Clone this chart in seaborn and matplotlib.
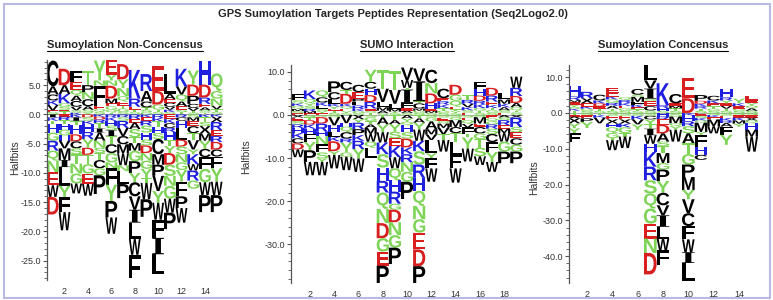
import pandas as pd
import seaborn as sns
import matplotlib.pyplot as plt
from matplotlib.textpath import TextPath
from matplotlib.font_manager import FontProperties
from matplotlib.patches import PathPatch, Rectangle
from matplotlib.lines import Line2D
from matplotlib.transforms import Affine2D
from matplotlib.ticker import AutoMinorLocator, FormatStrFormatter, MultipleLocator

sns.set_theme(style="ticks")
plt.rcParams['font.family'] = ['Liberation Sans', 'DejaVu Sans']

# stacks per position, letter + height in halfbits
# up: bottom -> top, down: top -> bottom
noncons_up = [
    "S.4 E.3 V.9 K.8 C1.0 A1.4 C4.4",
    "T.5 E.3 S.5 G.6 K1.6 A1.5 D2.8",
    "K.3 S.4 V.6 C1.0 A.9 Q1.0 E1.3 F1.9",
    "Y.3 S.5 A.6 C1.2 N1.2 P1.2 T2.4",
    "S.4 Q.5 E.6 F3.4 N.9 Y3.4",
    "T.3 Q.5 G.6 E.5 M.8 D2.2 N.9 Y1.0 E2.5",
    "S.4 G.6 T.5 E.7 Q.9 N1.4 Y1.5 D2.6",
    "S.4 T.4 E.5 R1.4 K4.9",
    "G.4 S.4 T.4 C1.0 A1.8 R2.9",
    "S.4 T.4 G.9 D2.3 E4.2",
    "S.4 K.4 V.5 C.7 E.6 A.9 L3.4",
    "T.4 S.4 E.6 A.8 Q1.2 V1.4 K3.0",
    "S.3 T.3 V.5 C.7 P1.4 D1.9 Y2.4",
    "T.3 S.4 A.5 E.6 R1.1 D2.2 H4.0",
    "S.4 T.5 V.6 N1.2 G1.3 Q3.0",
]
noncons_down = [
    "I.5 K.6 T.6 H1.4 G1.4 R1.7 Q1.7 N2.0 E2.2 W2.0 D3.0",
    "E.4 R.6 T.6 H1.0 G1.0 H.9 V1.3 M2.0 I1.2 L3.2 Y2.0 F2.5 W3.1",
    "K.5 I.6 T.7 H1.6 D1.2 C1.2 S1.0 T1.6 N1.7 G1.7 W1.7",
    "D.5 S.6 K.6 H1.3 R1.2 Y1.5 D1.2 T1.6 G1.6 E1.8 W2.0",
    "K.4 D.5 R.6 T.9 I.7 A1.4 N1.2 S.9 T1.2 C1.4 G1.2 P3.2",
    "R.5 K.6 H.8 S.8 I1.0 T1.4 C1.5 G1.6 N1.0 F2.8 Y2.8 P2.8 W2.8",
    "R.5 S.6 R1.2 V1.4 C1.4 M1.6 W2.0 N1.0 L2.2 P2.4",
    "R.8 E.6 A1.1 S1.4 T1.0 M1.3 G1.8 P2.0 Y1.6 C2.4 V2.3 I2.2 L2.8 W2.7 F4.0",
    "K.5 E.6 R.8 S1.2 H1.2 S1.0 D1.3 N1.3 G1.4 Y1.6 T.8 W2.8 P3.0",
    "R.6 K.6 T1.0 H1.0 S1.0 C2.6 M1.8 P1.9 V2.6 Y2.0 W2.9 F3.1 I2.8 L3.4",
    "E.8 K.7 C.8 R.7 H1.4 T1.0 Y1.2 D2.0 S1.9 N1.7 G2.2 W2.4 P2.8",
    "R.5 C.6 H1.2 L2.0 D1.2 S1.3 N1.4 G1.3 Y2.0 F2.5 P2.0 W2.5",
    "S.5 M.6 E.9 C1.2 T1.2 V1.6 Y.8 K1.7 W1.1 R1.7 G1.4",
    "K.5 T.8 S.7 X1.3 M1.2 Y1.4 C1.4 F2.0 G2.3 W2.2 P2.9",
    "K.4 X.9 R1.4 E1.0 R1.0 D1.3 C1.2 F2.0 Y2.3 W2.3 P2.9",
]

sumo_up = [
    "E.4 S.5 M.5 Q.7 K.6 S.7 F1.5",
    "E.4 M.5 R.5 S.7 Y.6 Q1.0 K2.0",
    "E.4 Y.5 S.6 L.6 K.8 C1.2 Q1.6",
    "S.5 T.5 E.4 Y.6 K.6 L1.0 C1.7 P2.5",
    "S.4 Y.5 E.5 Q.6 K.6 D2.3 T.9 C1.9",
    "S.4 G.5 K.5 R.8 L.9 P.6 E1.6 C1.7",
    "T.5 S.5 E.5 R1.5 D1.6 H1.5 C1.6 Y2.8",
    "S.4 A.6 M.8 L1.2 V3.1 T4.3",
    "S.4 Y.4 M.6 L1.2 V3.2 T4.4",
    "S.5 A.5 E.6 F1.2 I3.1 T.4 W1.8 V2.9",
    "S.5 G.5 M.5 C1.2 T.5 I4.6 V3.0",
    "S.5 M.5 E.5 H1.2 D2.3 N2.4 C3.1",
    "S.5 G.5 T.6 K.8 R.8 E.7 C2.2",
    "S.4 Y.5 T.4 E.6 Q1.4 G1.4 D2.3",
    "E.5 S.6 K.7 V.8 R.9 T1.2",
    "S.5 T.5 G.6 K.9 R.8 D1.2 H1.5 F1.6",
    "S.5 G.6 T.5 K.7 E.8 R1.4 D1.8",
    "E.5 S.6 A.7 K.8 M1.0 L1.6",
    "S.6 T.4 Q.8 A1.0 D1.6 R1.9 W2.6",
]
sumo_down = [
    "X.6 E.8 S.8 R.8 H1.2 K1.2 C1.2 D1.4 W1.8",
    "S.5 T.7 D1.0 K1.0 H1.2 F1.9 Y1.9 P2.7 W3.1",
    "Q.5 D1.5 R1.9 H1.0 N1.9 F1.9 S1.4 Y.8 W3.1",
    "S.5 V1.9 H1.5 L1.2 K1.0 D2.3 Y.9 W3.1",
    "V1.9 H.8 Q1.3 C1.5 R.9 Y2.3 G1.0 W3.1",
    "X1.0 Y.8 R1.5 P1.4 K1.3 R1.9 Y2.2 W3.1",
    "S.6 G.8 T.8 A.8 M1.4 W1.8 Q1.4 L2.4",
    "T.6 A1.6 Y1.8 W2.4 K2.7 S3.1 H3.1 R2.7 Q3.8 N3.3 D3.5 G3.1 E3.3 P4.0",
    "T1.2 A.9 Y1.8 S1.5 E1.8 K2.6 W2.6 Q2.8 H2.6 R2.8 G1.4 D2.9 N3.0 G2.9 P3.8",
    "A.8 Y.8 Q.8 H1.6 S1.5 D2.0 K1.6 R1.9 N2.2 G2.3 P4.0",
    "T.8 A1.0 Y1.6 W2.6 K2.4 S3.1 R3.1 H3.0 Q3.5 N3.1 G3.1 E3.9 D3.9 P3.9",
    "S.6 G.9 A1.8 M1.2 V1.3 L3.1 Y1.2 F2.3 W3.1",
    "S.6 E.8 Q.6 M1.0 V1.5 T1.3 W2.7",
    "S.6 Q.6 M1.6 C1.4 T2.0 L3.0 F3.2 W3.3",
    "S.6 E.6 Q.9 V.8 F1.5 T.8 Y2.6 W3.0",
    "S.5 M1.5 E.8 C1.5 G1.3 T2.0 S2.0 W2.0",
    "E.8 Q.7 G.7 R1.0 S1.2 C1.9 F2.3 Y2.3 W2.3",
    "A.6 S.6 R1.2 E.8 M1.0 W2.0 G2.3 P2.7",
    "X.6 R2.2 S1.2 E1.4 C1.5 G1.6 P2.7",
]

cons_up = [
    "T.6 K.6 S.5 Y.6 E.7 M.6 R1.0 H2.8",
    "S.6 G.6 K.6 E.9 X1.4 R1.8",
    "S.6 T.6 E.7 D.8 K.8 C1.6",
    "S.6 T.6 A.8 R.8 G1.0 K.8 E.9 E1.4",
    "S.6 G.7 E.7 K.8 R.8 Q.8",
    "S.5 T.5 E.6 K.7 F.8 M1.4 S.6 C1.6",
    "S.7 C1.2 E1.5 S.6 I2.8 V2.3 L4.2",
    "S.6 H.8 R.8 K6.1",
    "S.6 T.7 M.7 E.7 C2.6",
    "D4.1 E5.6",
    "S.6 T.6 R.7 K.7 D.8 P1.6",
    "S.6 G.6 T.7 E.8 K.8 C1.3",
    "S.6 T.6 V.8 E.7 Y.8 R.9 H2.3",
    "S.6 G.6 E.7 K.8 Y1.3",
    "S.6 A.7 Q.7 Y.8 E.8 E1.2",
]
cons_down = [
    "T.5 E.5 A.5 X1.4 Y1.4 Y1.4 F2.3",
    "S.6 E.9 P1.0 Y1.7",
    "T.6 K.7 V1.6",
    "S.8 E1.0 X1.2 H1.0 Q1.6 G1.4 T.6 W2.8",
    "S.8 E1.0 X1.2 K1.0 G1.6 T1.0 W3.2",
    "S.8 K1.0 V1.4 Y1.5",
    "S.8 C1.0 Y1.4 T1.2 I1.8 W2.4 H2.3 K4.1 R3.8 S3.7 Q4.2 G4.2 E4.2 N4.0 D6.0",
    "H1.0 R.8 E1.5 D2.4 A2.3 S1.2 T2.0 M2.8 G1.8 P3.2 Y3.3 C3.5 V2.8 I3.2 L3.3 W3.3 F4.0",
    "S1.0 M1.9 Q.8 Y1.0 W3.3",
    "K.7 H1.6 R1.4 S2.0 A2.8 T3.0 G2.9 P3.5 M3.6 Y2.6 V3.9 C3.6 F3.7 W3.6 I3.0 L5.0",
    "E.8 S.6 K.7 Q.6 M2.6 Y.8 F3.3 H2.3 C1.4",
    "S.6 K.6 E.6 M1.9 W2.0",
    "S.8 E.6 K.8 R.6 A1.0 F2.3 Y2.8",
    "S.6 E.7 K.8 M.9 Y.8",
    "S.6 E.7 X.8 Q.8 H1.8 M1.9 W4.2",
]

titles = ["Sumoylation Non-Concensus", "SUMO Interaction", "Sumoylation Concensus"]

red, blue, green = '#d81e1e', '#1f1fe0', '#7dd456'
aa_color = {}
for a in "DE":
    aa_color[a] = red
for a in "KRH":
    aa_color[a] = blue
for a in "GSTYQN":
    aa_color[a] = green

sans = FontProperties(family='Liberation Sans', weight='bold')
serif = FontProperties(family='Liberation Serif', weight='bold')


def stack_table(up, down):
    rows = []
    for i, (u, d) in enumerate(zip(up, down), start=1):
        y = 0.0
        for tok in u.split():
            h = float(tok[1:])
            rows.append((i, tok[0], y, h))
            y += h
        y = 0.0
        for tok in d.split():
            h = float(tok[1:])
            y -= h
            rows.append((i, tok[0], y, h))
    return pd.DataFrame(rows, columns=['pos', 'aa', 'bottom', 'height'])


def draw_letter(ax, aa, x, y0, h, w=1.0):
    p = TextPath((0, 0), aa, size=1, prop=serif if aa == 'I' else sans)
    e = p.get_extents()
    t = (Affine2D().translate(-e.x0, -e.y0)
         .scale(w / e.width, h / e.height)
         .translate(x - w / 2, y0))
    ax.add_patch(PathPatch(p, transform=t + ax.transData,
                           fc=aa_color.get(aa, 'black'), lw=0))


W, H = 773, 300
fig = plt.figure(figsize=(7.73, 3.0), dpi=100)

panels = [
    dict(df=stack_table(noncons_up, noncons_down), rect=(47, 60, 175.5, 220),
         xlim=(0.5, 15.5), ylim=(-28.3, 9.3), step=5, lab=(15, 158), tx=125),
    dict(df=stack_table(sumo_up, sumo_down), rect=(291, 65, 232, 218),
         xlim=(0.44, 19.55), ylim=(-39, 11.6), step=10, lab=(246, 157), tx=407),
    dict(df=stack_table(cons_up, cons_down), rect=(569, 65, 189, 218),
         xlim=(0.58, 15.5), ylim=(-47.5, 13.4), step=10, lab=(534, 178), tx=663),
]

title_texts = []
for k, pnl in enumerate(panels):
    x0, y0, w, h = pnl['rect']
    ax = fig.add_axes([x0 / W, 1 - (y0 + h) / H, w / W, h / H])
    ax.set_facecolor('white')
    ax.set_xlim(*pnl['xlim'])
    ax.set_ylim(*pnl['ylim'])
    ax.axhline(0, color='#999999', lw=0.6, zorder=0)
    for r in pnl['df'].itertuples():
        draw_letter(ax, r.aa, r.pos, r.bottom, r.height)
    sns.despine(ax=ax, bottom=True)
    ax.spines['left'].set_color('#555555')
    ax.spines['left'].set_linewidth(0.9)
    npos = pnl['df']['pos'].max()
    ax.set_xticks(range(2, npos + 1, 2))
    ax.tick_params(axis='x', length=0, pad=5, labelsize=6.5, labelcolor='#333333')
    ax.yaxis.set_major_locator(MultipleLocator(pnl['step']))
    ax.yaxis.set_minor_locator(AutoMinorLocator(5))
    ax.yaxis.set_major_formatter(FormatStrFormatter('%.1f'))
    ax.tick_params(axis='y', which='major', length=3, width=0.8, color='#555555',
                   pad=1.5, labelsize=6.5, labelcolor='#333333')
    ax.tick_params(axis='y', which='minor', length=2, width=0.6, color='#555555')
    lx, ly = pnl['lab']
    fig.text(lx / W, 1 - ly / H, "Halfbits", rotation=90, ha='center', va='center',
             fontsize=7.5, color='#333333')
    title_texts.append(fig.text(pnl['tx'] / W, 1 - 45.5 / H, titles[k], ha='center',
                                va='center', fontsize=8, fontweight='bold'))

fig.text(393 / W, 1 - 14 / H, "GPS Sumoylation Targets Peptides Representation (Seq2Logo2.0)",
         ha='center', va='center', fontsize=8, fontweight='bold')

fig.add_artist(Rectangle((4 / W, 2 / H), 766 / W, 294 / H, transform=fig.transFigure,
                         fill=False, ec='#b9b9e6', lw=1.5))

fig.canvas.draw()
inv = fig.transFigure.inverted()
for t in title_texts:
    bb = t.get_window_extent().transformed(inv)
    yy = bb.y0 - 1.0 / H
    fig.add_artist(Line2D([bb.x0, bb.x1], [yy, yy], transform=fig.transFigure,
                          color='black', lw=0.8))

fig.savefig("out.png", dpi=100)
